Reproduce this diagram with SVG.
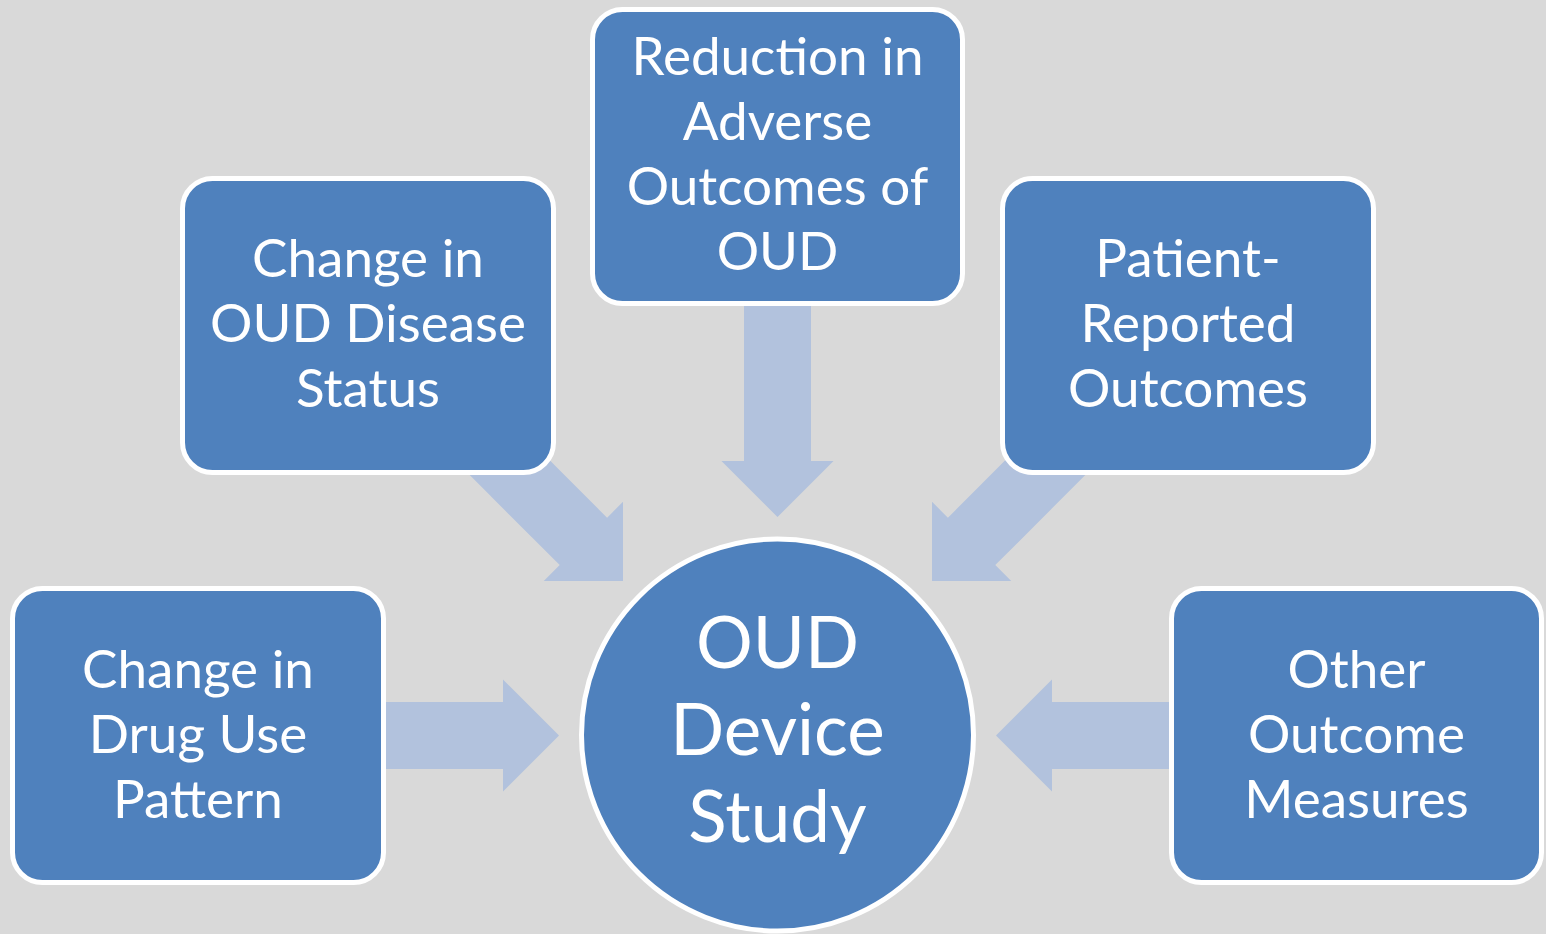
<svg xmlns="http://www.w3.org/2000/svg" width="1546" height="934" viewBox="0 0 1546 934">
  <style>
    .arrow { fill: #B2C2DD; }
    .box { fill: #4F81BD; stroke: #FFFFFF; stroke-width: 5; }
    .label { fill: #FFFFFF; font-family: Lato, "Open Sans", sans-serif; font-size: 53px; text-anchor: middle; }
    .hub { font-size: 71px; }
  </style>
  <defs>
    <!-- block arrow pointing along +x with its tip at the origin -->
    <polygon id="blockArrow" points="-230,-33.5 -56,-33.5 -56,-56 0,0 -56,56 -56,33.5 -230,33.5"/>
  </defs>

  <rect width="1546" height="934" fill="#D9D9D9"/>

  <!-- connectors (drawn beneath the nodes) -->
  <g id="connectors" class="arrow">
    <use href="#blockArrow" transform="translate(559,735.5)"/>
    <use href="#blockArrow" transform="translate(996,735.5) rotate(180)"/>
    <use href="#blockArrow" transform="translate(777.5,517) rotate(90)"/>
    <use href="#blockArrow" transform="translate(623,581) rotate(45)"/>
    <use href="#blockArrow" transform="translate(932,581) rotate(135)"/>
  </g>

  <g id="node-drug-use">
    <rect class="box" x="12.5" y="588.5" width="371" height="294" rx="30"/>
    <text class="label" x="198" y="688">Change in</text>
    <text class="label" x="198" y="753">Drug Use</text>
    <text class="label" x="198" y="818">Pattern</text>
  </g>

  <g id="node-disease-status">
    <rect class="box" x="182.5" y="178.5" width="371" height="294" rx="30"/>
    <text class="label" x="368" y="277">Change in</text>
    <text class="label" x="368" y="342">OUD Disease</text>
    <text class="label" x="368" y="407">Status</text>
  </g>

  <g id="node-adverse-outcomes">
    <rect class="box" x="592.5" y="9.5" width="370" height="294" rx="30"/>
    <text class="label" x="777.5" y="75">Reduction in</text>
    <text class="label" x="777.5" y="140">Adverse</text>
    <text class="label" x="777.5" y="205">Outcomes of</text>
    <text class="label" x="777.5" y="270">OUD</text>
  </g>

  <g id="node-patient-reported">
    <rect class="box" x="1002.5" y="178.5" width="371" height="294" rx="30"/>
    <text class="label" x="1188" y="277">Patient-</text>
    <text class="label" x="1188" y="342">Reported</text>
    <text class="label" x="1188" y="407">Outcomes</text>
  </g>

  <g id="node-other-measures">
    <rect class="box" x="1171.5" y="588.5" width="370" height="294" rx="30"/>
    <text class="label" x="1356.5" y="688">Other</text>
    <text class="label" x="1356.5" y="753">Outcome</text>
    <text class="label" x="1356.5" y="818">Measures</text>
  </g>

  <g id="node-device-study">
    <circle class="box" cx="777.5" cy="735" r="196"/>
    <text class="label hub" x="777.5" y="668">OUD</text>
    <text class="label hub" x="777.5" y="755">Device</text>
    <text class="label hub" x="777.5" y="842">Study</text>
  </g>
</svg>
